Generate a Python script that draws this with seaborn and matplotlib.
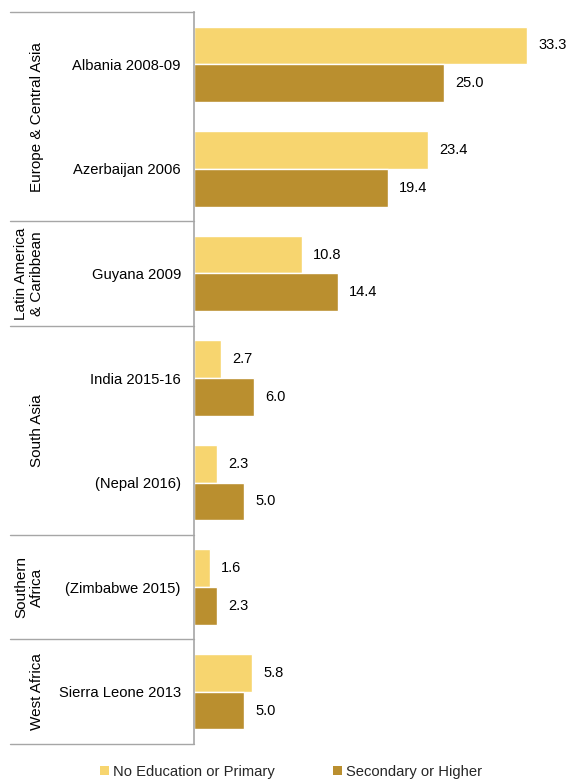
import matplotlib
matplotlib.use("Agg")
import matplotlib.pyplot as plt
import matplotlib.transforms as mtransforms
from matplotlib.patches import Patch
import seaborn as sns
import pandas as pd

countries = ["Albania 2008-09", "Azerbaijan 2006", "Guyana 2009", "India 2015-16",
             "(Nepal 2016)", "(Zimbabwe 2015)", "Sierra Leone 2013"]
no_edu_primary = [33.3, 23.4, 10.8, 2.7, 2.3, 1.6, 5.8]
secondary_higher = [25.0, 19.4, 14.4, 6.0, 5.0, 2.3, 5.0]
series = ["No Education or Primary", "Secondary or Higher"]
regions = ["Europe & Central Asia", "Latin America\n& Caribbean", "South Asia",
           "Southern\nAfrica", "West Africa"]
region_sizes = [2, 1, 2, 1, 1]

colors = ["#F7D56F", "#BA8F2F"]

df = pd.DataFrame({
    "country": countries * 2,
    "value": no_edu_primary + secondary_higher,
    "group": [series[0]] * len(countries) + [series[1]] * len(countries),
})

sns.set_theme(style="white")
plt.rcParams["font.family"] = ["Liberation Sans", "DejaVu Sans"]

fig = plt.figure(figsize=(5.69, 7.80), dpi=100)
ax = fig.add_axes([194 / 569, 1 - 744 / 780, 375 / 569, 732 / 780])

sns.barplot(data=df, x="value", y="country", hue="group", order=countries,
            hue_order=series, palette=colors, orient="h", width=0.72,
            gap=0, dodge=True, ax=ax, legend=False, saturation=1)

for cont in ax.containers:
    ax.bar_label(cont, fmt="%.1f", padding=8, fontsize=10.5, color="#000000")

ax.set_xlim(0, 37.5)
ax.set_ylim(len(countries) - 0.5, -0.5)
ax.set_xlabel("")
ax.set_ylabel("")
ax.set_xticks([])
ax.tick_params(axis="y", length=0, pad=9.5, labelsize=10.6, labelcolor="#000000")

for side in ["top", "right", "bottom"]:
    ax.spines[side].set_visible(False)
ax.spines["left"].set_color("#A6A6A6")
ax.spines["left"].set_linewidth(1.2)

# Region separators and region labels to the left of the category labels
trans = mtransforms.blended_transform_factory(ax.transAxes, ax.transData)
x_left = (10 - 194) / 375
start = -0.5
ax.plot([x_left, 0], [start, start], transform=trans, color="#A6A6A6",
        lw=1.0, clip_on=False)
for name, size in zip(regions, region_sizes):
    end = start + size
    ax.plot([x_left, 0], [end, end], transform=trans, color="#A6A6A6",
            lw=1.0, clip_on=False)
    x_px = 29 if "\n" in name else 37
    ax.text((x_px - 194) / 375, (start + end) / 2, name, transform=trans,
            rotation=90, ha="center", va="center", fontsize=11, color="#000000",
            linespacing=1.1, multialignment="center")
    start = end

handles = [Patch(facecolor=c, edgecolor="none") for c in colors]
fig.legend(handles, series, loc="center", bbox_to_anchor=(291 / 569, 1 - 772 / 780),
           ncol=2, frameon=False, fontsize=10.6, handlelength=0.6, handleheight=0.6,
           handletextpad=0.25, columnspacing=4.0, borderaxespad=0)

fig.savefig("out.png", dpi=100, facecolor="white")
